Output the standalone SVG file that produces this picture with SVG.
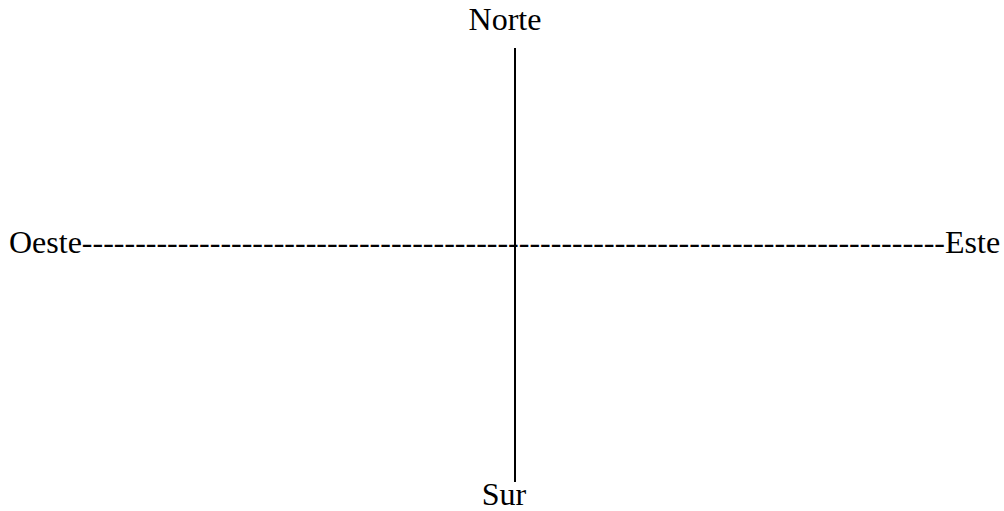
<svg xmlns="http://www.w3.org/2000/svg" width="1004" height="511" viewBox="0 0 1004 511">
<style>
text{font-family:"Liberation Serif","Times New Roman",serif;font-size:32px;fill:#000}
</style>
<rect width="1004" height="511" fill="#fff"/>
<g id="connectors">
<line x1="515" y1="48" x2="515" y2="482" stroke="#000" stroke-width="2"/>
</g>
<g id="norte"><text x="505" y="30" text-anchor="middle">Norte</text></g>
<g id="sur"><text x="504" y="505" text-anchor="middle">Sur</text></g>
<g id="oeste-este"><text x="9" y="253">Oeste---------------------------------------------------------------------------------Este</text></g>
</svg>
